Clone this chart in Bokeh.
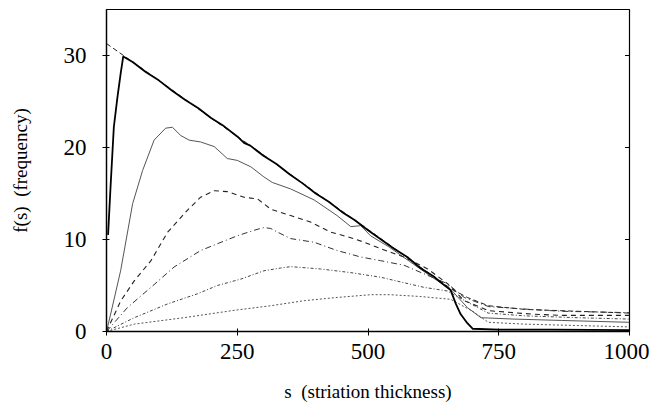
from bokeh.plotting import figure
from bokeh.models import FixedTicker, Range1d
from bokeh.embed import file_html
from bokeh.resources import INLINE

# --- data ---
x_ticks = [0, 250, 500, 750, 1000]
y_ticks = [0, 10, 20, 30]

limit_s = [0, 100, 200, 300, 400, 500, 600, 660, 690, 730, 800, 900, 1000]
limit_f = [31.3, 27.3, 23.2, 19.2, 15.1, 11.1, 7.0, 4.6, 3.7, 2.8, 2.4, 2.2, 2.0]

thick_s = [3, 8, 14, 21, 27, 32, 50, 75, 100, 125, 150, 175, 200, 225, 250, 263, 275, 300,
           325, 350, 375, 400, 425, 450, 475, 500, 525, 550, 575, 600, 625, 640, 658, 668,
           677, 690, 700, 750, 850, 1000]
thick_f = [10.5, 16.0, 22.2, 25.5, 28.0, 29.9, 29.3, 28.2, 27.3, 26.2, 25.2, 24.3, 23.2, 22.3,
           21.2, 20.5, 20.2, 19.1, 18.2, 17.1, 16.1, 15.0, 14.1, 13.0, 12.1, 11.0, 10.0, 9.0,
           8.1, 6.9, 6.0, 5.3, 4.5, 3.0, 1.9, 0.9, 0.3, 0.2, 0.2, 0.15]

thin_s = [0, 8, 27, 50, 69, 91, 113, 126, 142, 158, 180, 206, 231, 250, 276, 301, 317, 352,
          397, 441, 467, 486, 505, 540, 580, 620, 658, 690, 716, 779, 870, 1000]
thin_f = [0, 1.9, 6.6, 13.9, 17.5, 20.8, 22.1, 22.2, 21.3, 20.8, 20.6, 20.1, 18.8, 18.6, 17.9,
          16.8, 16.2, 15.5, 14.3, 12.6, 11.4, 11.5, 10.4, 9.2, 7.6, 6.0, 4.6, 2.6, 1.5, 1.35,
          1.2, 1.0]

dash_s = [0, 27, 53, 85, 117, 155, 180, 206, 231, 263, 289, 314, 352, 390, 429, 467, 493, 524,
          569, 614, 652, 684, 731, 811, 870, 1000]
dash_f = [0, 3.3, 5.5, 7.7, 10.8, 13.2, 14.6, 15.3, 15.2, 14.6, 14.4, 13.3, 12.6, 11.9, 10.8,
          10.2, 9.7, 9.0, 8.1, 6.8, 5.2, 3.35, 2.26, 1.9, 1.75, 1.75]

dashdot_s = [0, 40, 85, 129, 180, 219, 250, 282, 301, 314, 327, 352, 397, 441, 486, 524, 569,
             614, 652, 684, 731, 811, 869, 1000]
dashdot_f = [0, 2.6, 4.8, 7.0, 8.8, 9.7, 10.4, 11.0, 11.3, 11.2, 10.8, 10.1, 9.7, 8.8, 8.1,
             7.7, 7.2, 6.1, 5.2, 3.7, 2.7, 2.4, 2.2, 2.05]

dot6_s = [0, 53, 117, 174, 212, 257, 301, 333, 352, 409, 467, 524, 569, 607, 652, 690, 730,
          800, 900, 1000]
dot6_f = [0, 1.5, 3.0, 4.1, 5.0, 5.7, 6.6, 6.9, 7.05, 6.8, 6.4, 5.9, 5.3, 4.8, 4.4, 3.2, 2.0,
          1.7, 1.5, 1.35]

dot7_s = [0, 53, 148, 244, 314, 378, 441, 505, 543, 601, 658, 700, 730, 800, 900, 1000]
dot7_f = [0, 0.8, 1.5, 2.3, 2.8, 3.35, 3.7, 4.0, 4.0, 3.8, 3.5, 2.2, 1.0, 0.8, 0.65, 0.5]

FONT = "Liberation Serif"

p = figure(width=649, height=411, output_backend="svg", toolbar_location=None,
           x_range=Range1d(0, 1000), y_range=Range1d(0, 35),
           min_border_left=106, min_border_right=20, min_border_top=9, min_border_bottom=80)
p.grid.visible = False
p.outline_line_color = "black"
p.outline_line_width = 1.2

p.line(limit_s, limit_f, line_color="#222222", line_width=1, line_dash="5 3")
p.line(thin_s, thin_f, line_color="#555555", line_width=1)
p.line(dash_s, dash_f, line_color="#222222", line_width=1.1, line_dash="5 4")
p.line(dashdot_s, dashdot_f, line_color="#333333", line_width=1, line_dash="6 3 1 3")
p.line(dot6_s, dot6_f, line_color="#444444", line_width=1, line_dash="3 2 1 2")
p.line(dot7_s, dot7_f, line_color="#555555", line_width=1, line_dash="2 2")
p.line(thick_s, thick_f, line_color="black", line_width=1.8)

# inward ticks on the right frame edge
p.scatter([x_ticks[-1]] * len(y_ticks[1:]), y_ticks[1:], marker="dash", size=9,
          line_color="black", line_width=1)

for ax, ticks in ((p.xaxis[0], x_ticks), (p.yaxis[0], y_ticks)):
    ax.ticker = FixedTicker(ticks=ticks)
    ax.minor_tick_line_color = None
    ax.major_tick_in = 3
    ax.major_tick_out = 4
    ax.axis_line_width = 1.3
    ax.major_label_text_font = FONT
    ax.major_label_text_font_size = "23px"
    ax.major_label_text_color = "black"
    ax.axis_label_text_font = FONT
    ax.axis_label_text_font_size = "19px"
    ax.axis_label_text_font_style = "normal"
    ax.axis_label_text_color = "black"

p.xaxis.axis_label = "s\u00a0\u00a0(striation thickness)"
p.xaxis.major_label_standoff = 8
p.xaxis.axis_label_standoff = 19
p.yaxis.axis_label = "f(s)\u00a0\u00a0(frequency)"
p.yaxis.major_label_standoff = 16
p.yaxis.axis_label_standoff = 30

open("out.html", "w").write(file_html(p, INLINE))
